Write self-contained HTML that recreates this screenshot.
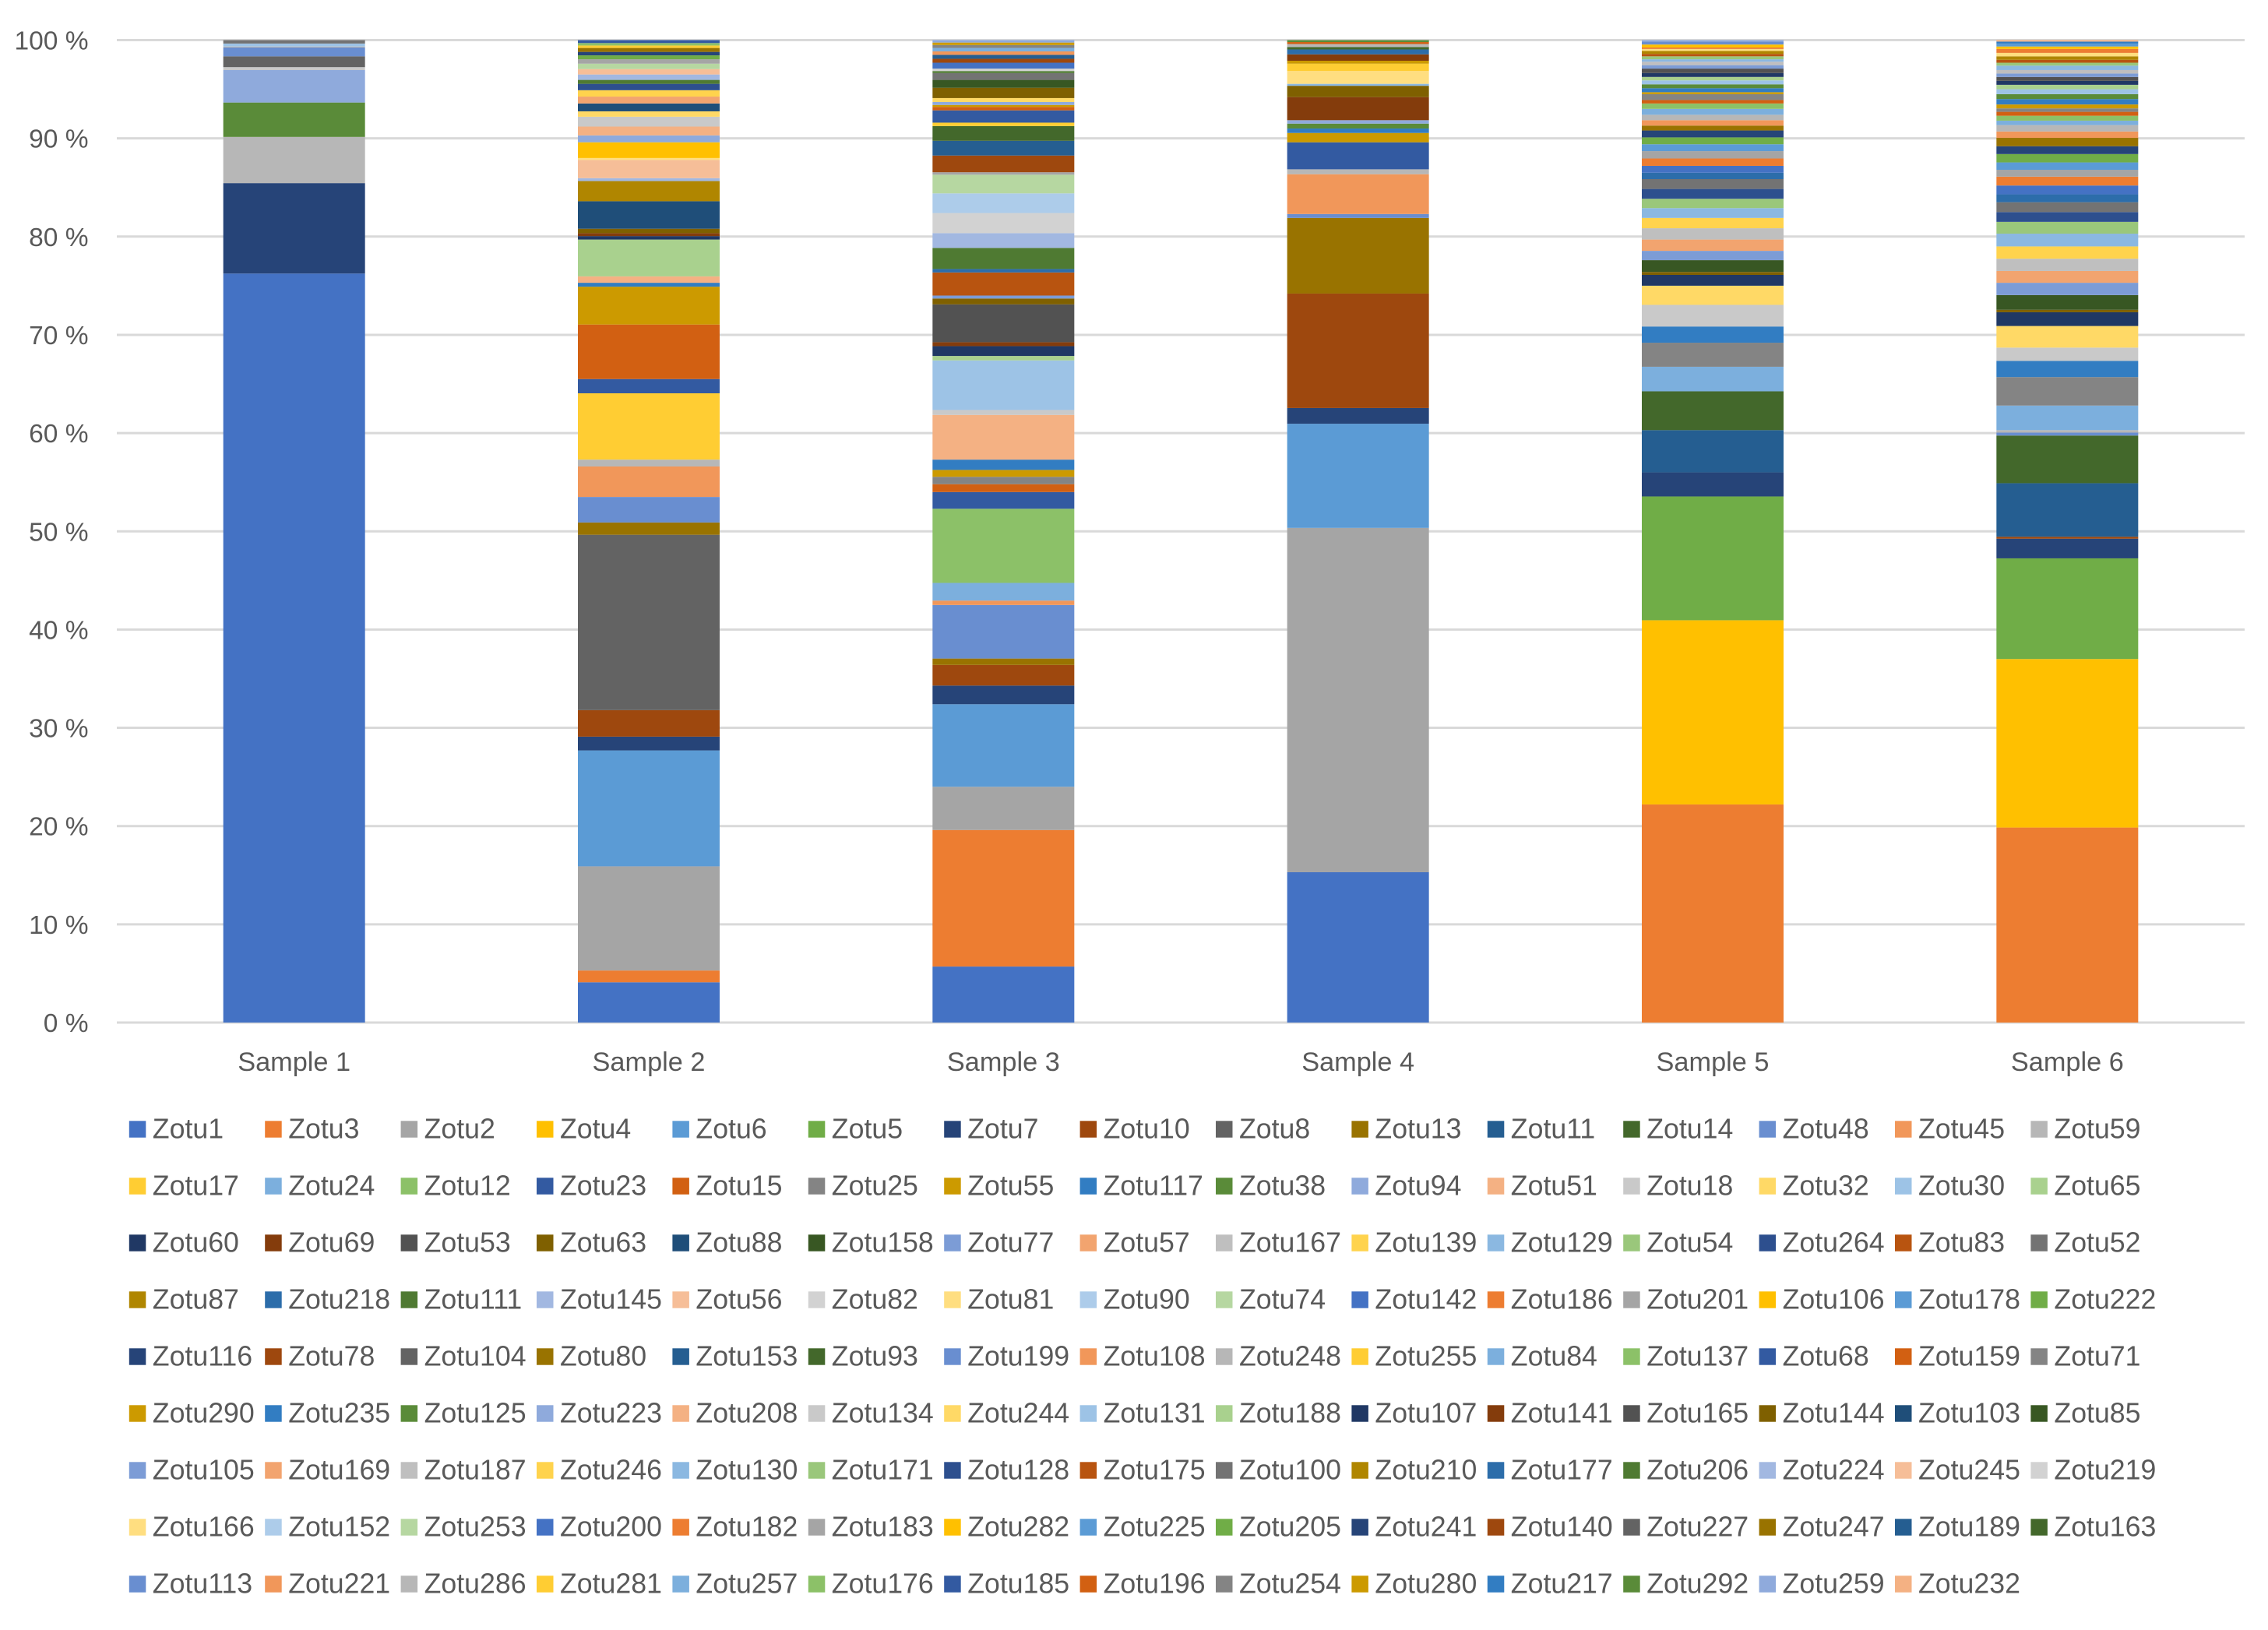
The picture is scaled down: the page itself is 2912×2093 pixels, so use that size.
<!DOCTYPE html>
<html lang="en">
<head>
<meta charset="utf-8">
<title>Relative abundance of Zotus per sample</title>
<style>
html,body{margin:0;padding:0;background:#fff;}
svg{display:block;}
text{font-family:"Liberation Sans",sans-serif;fill:#595959;}
</style>
</head>
<body>
<svg id="chart" xmlns="http://www.w3.org/2000/svg" width="2912" height="2093" viewBox="0 0 2912 2093"></svg>
<script>
const categories = ['Sample 1','Sample 2','Sample 3','Sample 4','Sample 5','Sample 6'];
const tickValues = [0,10,20,30,40,50,60,70,80,90,100];
const tickLabels = ['0 %','10 %','20 %','30 %','40 %','50 %','60 %','70 %','80 %','90 %','100 %'];
const seriesIds = [1,3,2,4,6,5,7,10,8,13,11,14,48,45,59,
17,24,12,23,15,25,55,117,38,94,51,18,32,30,65,
60,69,53,63,88,158,77,57,167,139,129,54,264,83,52,
87,218,111,145,56,82,81,90,74,142,186,201,106,178,222,
116,78,104,80,153,93,199,108,248,255,84,137,68,159,71,
290,235,125,223,208,134,244,131,188,107,141,165,144,103,85,
105,169,187,246,130,171,128,175,100,210,177,206,224,245,219,
166,152,253,200,182,183,282,225,205,241,140,227,247,189,163,
113,221,286,281,257,176,185,196,254,280,217,292,259,232];
const palette = ['#4472C4','#ED7D31','#A5A5A5','#FFC000','#5B9BD5','#70AD47',
'#264478','#9E480E','#636363','#997300','#255E91','#43682B',
'#698ED0','#F1975A','#B7B7B7','#FFCD33','#7CAFDD','#8CC168',
'#335AA1','#D26012','#848484','#CC9A00','#327DC2','#5A8B39',
'#8FAADC','#F4B183','#C9C9C9','#FFD966','#9DC3E6','#A9D18E',
'#203864','#843C0C','#525252','#7F6000','#1F4E79','#385723',
'#7C9CD6','#F2A46F','#BFBFBF','#FFD34D','#8BB8E1','#9AC77B',
'#2D4F8E','#B85410','#737373','#B08600','#2C6DAA','#4F7A32',
'#A2B8E1','#F6BE98','#D2D2D2','#FFDE80','#ADCCEA','#B6D7A1'];

const sample1Ids = [1,7,59,38,94,18,104,199,248,131,100];
const sample1Values = [76.2,9.2,4.7,3.5,3.3,0.3,1.1,0.9,0.1,0.3,0.35];

const sample2Ids = [1,3,2,6,7,10,8,13,48,45,59,17,23,15,55,117,51,65,60,69,63,88,87,145,56,81,106,223,208,134,244,103,169,246,128,206,224,245,253,183,205,241,247,281,176,185];
const sample2Values = [4.1,1.2,10.6,11.8,1.4,2.7,17.85,1.25,2.6,3.1,0.7,6.75,1.45,5.55,3.85,0.4,0.65,3.75,0.35,0.3,0.45,2.8,2.05,0.3,1.85,0.2,1.6,0.7,0.9,1,0.55,0.8,0.7,0.65,0.65,0.4,0.55,0.55,0.55,0.45,0.4,0.35,0.4,0.25,0.25,0.3];

const sample3Ids = [1,3,2,6,7,10,13,48,45,24,12,23,15,25,55,117,51,18,30,65,60,69,53,63,77,83,218,111,145,82,90,74,201,78,153,93,255,68,159,290,223,244,144,85,100,206,219,200,140,189,221,257,254,280,259];
const sample3Values = [5.7,13.9,4.4,8.4,1.9,2.1,0.65,5.45,0.45,1.8,7.55,1.7,0.8,0.75,0.7,1.05,4.55,0.5,5.05,0.45,1,0.4,3.85,0.6,0.3,2.35,0.35,2.15,1.5,2.05,2,1.9,0.25,1.7,1.5,1.5,0.35,1.25,0.35,0.2,0.3,0.4,1.05,0.8,0.7,0.2,0.25,0.6,0.4,0.4,0.35,0.35,0.3,0.25,0.25];

const sample4Ids = [1,2,6,7,10,13,48,45,59,23,55,117,38,94,69,63,129,81,255,290,141,177,163,286,196,292];
const sample4Values = [15.3,35.05,10.6,1.6,11.65,7.7,0.4,4.05,0.5,2.75,0.95,0.45,0.5,0.35,2.35,1.15,0.2,1.3,0.75,0.3,0.65,0.5,0.25,0.3,0.2,0.2];

const sample5Ids = [3,4,5,7,11,14,24,25,117,18,32,60,63,158,77,57,167,139,129,54,264,52,218,142,186,201,178,222,116,80,108,248,84,137,159,71,290,235,125,131,188,107,165,105,187,130,171,175,210,166,182,282,113,259];
const sample5Values = [22.2,18.75,12.6,2.45,4.3,3.95,2.5,2.45,1.65,2.2,1.95,1.1,0.3,1.2,0.95,1.15,1.15,1.05,1,0.95,1,1,0.65,0.7,0.75,0.75,0.7,0.7,0.7,0.5,0.55,0.55,0.6,0.55,0.35,0.6,0.2,0.4,0.4,0.4,0.35,0.4,0.45,0.35,0.35,0.25,0.3,0.25,0.3,0.2,0.15,0.3,0.3,0.15];

const sample6Ids = [3,4,5,7,10,11,14,48,59,24,25,117,18,32,60,63,158,77,57,167,139,129,54,264,52,218,142,186,201,178,222,116,80,108,248,84,137,159,71,290,235,125,131,188,107,165,105,187,130,171,175,210,166,182,282,225,217,232];
const sample6Values = [19.85,17.15,10.25,2,0.2,5.45,4.85,0.3,0.25,2.5,2.9,1.65,1.35,2.2,1.4,0.25,1.5,1.25,1.2,1.25,1.25,1.3,1.2,1,1,0.8,0.9,0.9,0.7,0.75,0.85,0.8,0.85,0.65,0.65,0.45,0.5,0.4,0.35,0.4,0.55,0.5,0.5,0.45,0.4,0.4,0.35,0.35,0.45,0.3,0.3,0.35,0.35,0.4,0.25,0.3,0.2,0.15];

const sampleIds = [sample1Ids,sample2Ids,sample3Ids,sample4Ids,sample5Ids,sample6Ids];
const sampleValues = [sample1Values,sample2Values,sample3Values,sample4Values,sample5Values,sample6Values];

const NS = 'http://www.w3.org/2000/svg';
const svg = document.getElementById('chart');
const plot = {left:150, right:2882, top:51.5, bottom:1313};
const slot = (plot.right - plot.left) / categories.length;
const barWidth = 182;
function yScale(v){ return plot.bottom - (v / 100) * (plot.bottom - plot.top); }
function xCenter(i){ return plot.left + slot * (i + 0.5); }
function colorOf(i){ return palette[i % palette.length]; }
function make(tag, attrs, parent){
  const el = document.createElementNS(NS, tag);
  for (const k in attrs) el.setAttribute(k, attrs[k]);
  parent.appendChild(el);
  return el;
}

const gridGroup = make('g', {}, svg);


tickValues.forEach(function(v, i){
  const line = make('line', {x1:plot.left, x2:plot.right, y1:yScale(v), y2:yScale(v), stroke:'#D9D9D9', 'stroke-width':3}, gridGroup);
  
  
  const label = make('text', {x:113.5, y:yScale(v) + 12, 'text-anchor':'end', 'font-size':33.5}, svg);
  label.textContent = tickLabels[i];
  
  
});

categories.forEach(function(cat, c){
  const ids = sampleIds[c];
  const vals = sampleValues[c];
  const total = vals.reduce(function(a, b){ return a + b; }, 0);
  const rows = ids.map(function(id, k){ return {index: seriesIds.indexOf(id), id: id, value: vals[k]}; });
  rows.sort(function(a, b){ return a.index - b.index; });
  const group = make('g', {}, svg);
  
  
  let cumulative = 0;
  rows.forEach(function(r){
    const pct = r.value / total * 100;
    const yTop = yScale(cumulative + pct);
    const yBottom = yScale(cumulative);
    const rect = make('rect', {x:xCenter(c) - barWidth / 2, y:yTop, width:barWidth, height:yBottom - yTop, fill:colorOf(r.index)}, group);
    
    
    cumulative += pct;
  });
  const label = make('text', {x:xCenter(c), y:1375, 'text-anchor':'middle', 'font-size':34.3}, svg);
  label.textContent = cat;
  
  
});

const legend = make('g', {}, svg);


const legendCols = 15;
seriesIds.forEach(function(id, i){
  const col = i % legendCols;
  const row = Math.floor(i / legendCols);
  const lx = 165.8 + col * 174.4;
  const ly = 1450 + row * 73;
  const entry = make('g', {}, legend);
  
  
  const swatch = make('rect', {x:lx, y:ly - 10.7, width:21.5, height:21.4, fill:colorOf(i)}, entry);
  
  
  const text = make('text', {x:lx + 30, y:ly + 11.5, 'font-size':35.7}, entry);
  text.textContent = 'Zotu' + id;
  
  
});
</script>
</body>
</html>
